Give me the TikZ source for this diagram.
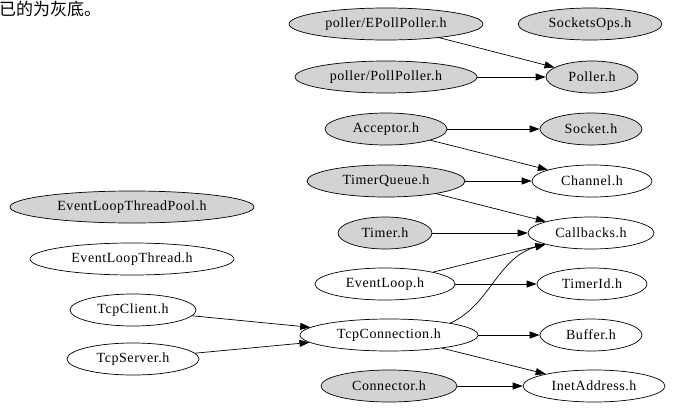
\documentclass[tikz,border=0pt]{standalone}
\usepackage{fontspec}
\setmainfont{Liberation Serif}
\newfontfamily\dotfont[LetterSpace=4]{Liberation Serif}
\newfontfamily\cjk{Noto Sans CJK SC}
\usetikzlibrary{shapes.geometric,arrows.meta}
\definecolor{hgrey}{HTML}{D3D3D3}
\begin{document}
\begin{tikzpicture}[x=1pt,y=-1pt,
  hdr/.style 2 args={ellipse,draw,line width=0.7pt,inner sep=0pt,
     minimum width=#1pt,minimum height=#2pt,font=\dotfont\fontsize{14}{16}\selectfont},
  greyhdr/.style 2 args={hdr={#1}{#2},fill=hgrey},
  whitehdr/.style 2 args={hdr={#1}{#2},fill=white},
  dep/.style={-{Triangle[length=10pt,width=7pt]},line width=0.7pt}]
\useasboundingbox (0,0) rectangle (679,415);
\node[anchor=base west,inner sep=0pt,font=\cjk\fontsize{17}{19}\selectfont] (note) at (-1,15) {已的为灰底。};
% nodes
\node[greyhdr={194}{32}] (epoll) at (386,24) {poller/EPollPoller.h};
\node[greyhdr={144}{32}] (sockops) at (590,24) {SocketsOps.h};
\node[greyhdr={182}{32}] (poll) at (386,77) {poller/PollPoller.h};
\node[greyhdr={92}{32}] (poller) at (592,77) {Poller.h};
\node[greyhdr={122}{32}] (acceptor) at (386,129) {Acceptor.h};
\node[greyhdr={102}{32}] (socket) at (591,129) {Socket.h};
\node[greyhdr={158}{32}] (tq) at (386,181) {TimerQueue.h};
\node[whitehdr={120}{32}] (channel) at (592,181) {Channel.h};
\node[greyhdr={94}{32}] (timer) at (385,233) {Timer.h};
\node[whitehdr={126}{32}] (callbacks) at (591,233) {Callbacks.h};
\node[greyhdr={244}{32}] (eltp) at (132,207) {EventLoopThreadPool.h};
\node[whitehdr={204}{32}] (elt) at (132,259) {EventLoopThread.h};
\node[whitehdr={140}{32}] (eventloop) at (385,284) {EventLoop.h};
\node[whitehdr={110}{32}] (timerid) at (592,284) {TimerId.h};
\node[whitehdr={126}{32}] (tcpclient) at (133,310) {TcpClient.h};
\node[whitehdr={132}{32}] (tcpserver) at (133,359) {TcpServer.h};
\node[whitehdr={178}{32}] (tcpconn) at (389,335) {TcpConnection.h};
\node[whitehdr={102}{32}] (buffer) at (591,335) {Buffer.h};
\node[greyhdr={136}{32}] (connector) at (389,386) {Connector.h};
\node[whitehdr={142}{32}] (inet) at (594,386) {InetAddress.h};
% edges
\draw[dep] (epoll) -- (poller);
\draw[dep] (poll) -- (poller);
\draw[dep] (acceptor) -- (socket);
\draw[dep] (acceptor) -- (channel);
\draw[dep] (tq) -- (channel);
\draw[dep] (tq) -- (callbacks);
\draw[dep] (timer) -- (callbacks);
\draw[dep] (eventloop) -- (callbacks);
\draw[dep] (eventloop) -- (timerid);
\draw[dep] (tcpconn.11) .. controls +(40,-18) and +(-48,13) .. (callbacks.194);
\draw[dep] (tcpconn) -- (buffer);
\draw[dep] (tcpconn) -- (inet);
\draw[dep] (tcpclient) -- (tcpconn);
\draw[dep] (tcpserver) -- (tcpconn);
\draw[dep] (connector) -- (inet);
\end{tikzpicture}
\end{document}
